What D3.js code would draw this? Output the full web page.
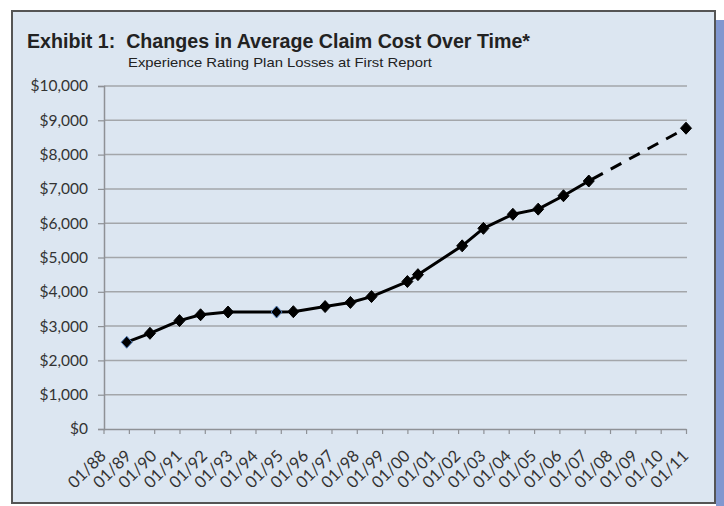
<!DOCTYPE html>
<html>
<head>
<meta charset="utf-8">
<script src="https://cdn.jsdelivr.net/npm/d3@7"></script>
<style>
  body { margin: 0; background: #fff; }
  svg { display: block; }
</style>
</head>
<body>
<div id="chart"></div>
<script>
var dates = ["1988-12","1989-11","1991-01","1991-11","1992-12","1994-11","1995-07",
             "1996-10","1997-10","1998-08","2000-01","2000-06","2002-03","2003-01",
             "2004-03","2005-03","2006-03","2007-03","2011-01"];
var costs = [2530, 2790, 3160, 3330, 3410, 3410, 3420,
             3570, 3690, 3860, 4300, 4500, 5340, 5850,
             6260, 6410, 6800, 7230, 8770];
var projectedFrom = 17; // index where the dashed projection starts
var yTicks = [0,1000,2000,3000,4000,5000,6000,7000,8000,9000,10000];
var tickYears = d3.range(1988, 2012);

var W = 724, H = 506;
var parse = d3.timeParse("%Y-%m");
var pts = dates.map(function(d, i){ return {date: parse(d), value: costs[i]}; });

var svg = d3.select("#chart").append("svg")
    .attr("width", W).attr("height", H);

// frame + shadow
svg.append("rect").attr("x", 716).attr("y", 20).attr("width", 8).attr("height", 486)
    .attr("fill", "#8197cf");
svg.append("rect").attr("x", 12).attr("y", 11).attr("width", 703).attr("height", 492)
    .attr("fill", "#dce6f1").attr("stroke", "#555").attr("stroke-width", 2);

svg.append("text").attr("x", 27).attr("y", 48)
    .attr("font-family", "'Liberation Sans Narrow', 'Liberation Sans', Arial, sans-serif")
    .attr("font-weight", "bold").attr("font-size", 20).attr("fill", "#222")
    .attr("textLength", 503).attr("lengthAdjust", "spacingAndGlyphs")
    .style("white-space", "pre")
    .text("Exhibit 1:  Changes in Average Claim Cost Over Time*");
svg.append("text").attr("x", 128).attr("y", 67)
    .attr("font-family", "'Liberation Sans Narrow', 'Liberation Sans', Arial, sans-serif")
    .attr("font-size", 13).attr("fill", "#222")
    .attr("textLength", 304).attr("lengthAdjust", "spacingAndGlyphs")
    .text("Experience Rating Plan Losses at First Report");

var x = d3.scaleTime()
    .domain([new Date(1988, 0, 1), new Date(2011, 0, 1)])
    .range([103.5, 686]);
var y = d3.scaleLinear().domain([0, 10000]).range([429, 86]);

// gridlines
svg.append("g").selectAll("line").data(yTicks.slice(1)).enter().append("line")
    .attr("x1", 104).attr("x2", 687)
    .attr("y1", function(d){ return y(d); }).attr("y2", function(d){ return y(d); })
    .attr("stroke", "#a3a6aa").attr("stroke-width", 1.5);

var yAxis = d3.axisLeft(y).tickValues(yTicks).tickSize(6).tickPadding(10)
    .tickFormat(function(d){ return "$" + d3.format(",")(d); });
var gy = svg.append("g").attr("transform", "translate(104,0)").call(yAxis);
gy.select(".domain").attr("stroke", "#8e9196").attr("stroke-width", 1.5);
gy.selectAll(".tick line").attr("stroke", "#8e9196").attr("stroke-width", 1.2);
gy.selectAll("text").attr("font-family", "Lato, 'Open Sans', sans-serif")
    .attr("font-size", 15.5).attr("fill", "#333");

var xAxis = d3.axisBottom(x)
    .tickValues(tickYears.map(function(yr){ return new Date(yr, 0, 1); }))
    .tickSize(5).tickSizeOuter(0)
    .tickFormat(d3.timeFormat("%m/%y"));
var gx = svg.append("g").attr("transform", "translate(0,429)").call(xAxis);
gx.select(".domain").attr("stroke", "#8e9196").attr("stroke-width", 1.5);
gx.selectAll(".tick line").attr("stroke", "#8e9196").attr("stroke-width", 1.2);
gx.selectAll("text")
    .attr("font-family", "Lato, 'Open Sans', sans-serif")
    .attr("font-size", 16.5).attr("fill", "#333")
    .style("text-anchor", "end")
    .attr("x", 0).attr("y", 0).attr("dy", 0)
    .attr("transform", "translate(3,28) rotate(-45)");

// line: solid actuals, dashed projection
var line = d3.line().x(function(d){ return x(d.date); }).y(function(d){ return y(d.value); });
svg.append("path").datum(pts.slice(0, projectedFrom + 1))
    .attr("d", line).attr("fill", "none")
    .attr("stroke", "#000").attr("stroke-width", 3).attr("stroke-linejoin", "round");
svg.append("path").datum(pts.slice(projectedFrom))
    .attr("d", line).attr("fill", "none")
    .attr("stroke", "#000").attr("stroke-width", 3)
    .attr("stroke-dasharray", "12,9").attr("stroke-dashoffset", -4);

// squat diamond markers
var diamond = "M0,-6L5.5,0L0,6L-5.5,0Z";
svg.append("g").selectAll("path").data(pts).enter().append("path")
    .attr("transform", function(d){ return "translate(" + x(d.date) + "," + y(d.value) + ")"; })
    .attr("d", diamond)
    .attr("fill", "#000")
    .attr("stroke", function(d, i){ return (i === 0 || i === 5) ? "#4d79b5" : "#000"; })
    .attr("stroke-width", 1);
</script>
</body>
</html>
